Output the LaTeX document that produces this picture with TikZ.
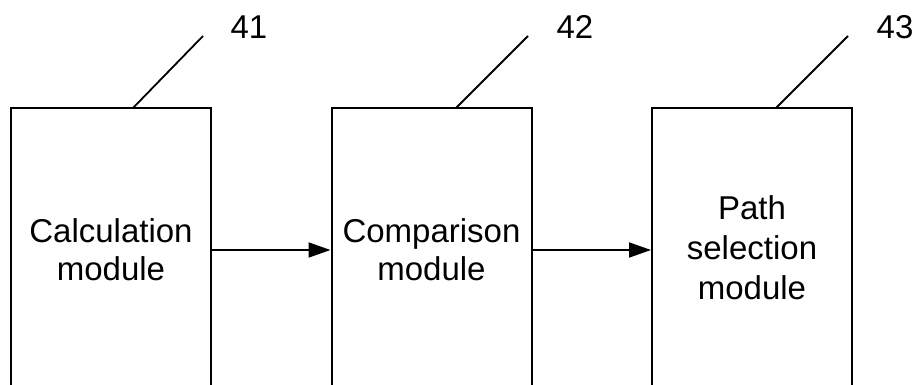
\documentclass[tikz,border=0pt]{standalone}
\usepackage{fontspec}
\setmainfont{Liberation Sans}
\usetikzlibrary{arrows.meta}
\begin{document}
\begin{tikzpicture}[x=1pt,y=-1pt,
  box/.style={draw,line width=2pt,minimum width=200pt,minimum height=284pt,align=center,
    font=\fontsize{33}{38}\selectfont,inner sep=0pt},
  lead/.style={line width=1.8pt},
  num/.style={font=\fontsize{33}{38}\selectfont,anchor=base,inner sep=0pt},
  flow/.style={line width=1.8pt,-{Triangle[length=22pt,width=15pt]}}]
\useasboundingbox (0,0) rectangle (919,385);
\clip (0,0) rectangle (919,385);
\node[box] (b1) at (111,250) {Calculation\\module};
\node[box] (b2) at (431.5,250) {Comparison\\module};
\node[box,minimum height=280pt,font=\fontsize{33}{40}\selectfont] (b3) at (752,248) {Path\\selection\\module};
\draw[flow] (b1) -- (b2.west |- b1.east);
\draw[flow] (b2) -- (b3.west |- b2.east);
\coordinate (s1) at (133,108);
\coordinate (t1) at (203,36);
\coordinate (s2) at (456,108);
\coordinate (t2) at (528,36);
\coordinate (s3) at (776,108);
\coordinate (t3) at (848,36);
\draw[lead] (s1) -- (t1);
\draw[lead] (s2) -- (t2);
\draw[lead] (s3) -- (t3);
\node[num] (n1) at (249,39) {41};
\node[num] (n2) at (575,39) {42};
\node[num] (n3) at (895,39) {43};
\end{tikzpicture}
\end{document}
